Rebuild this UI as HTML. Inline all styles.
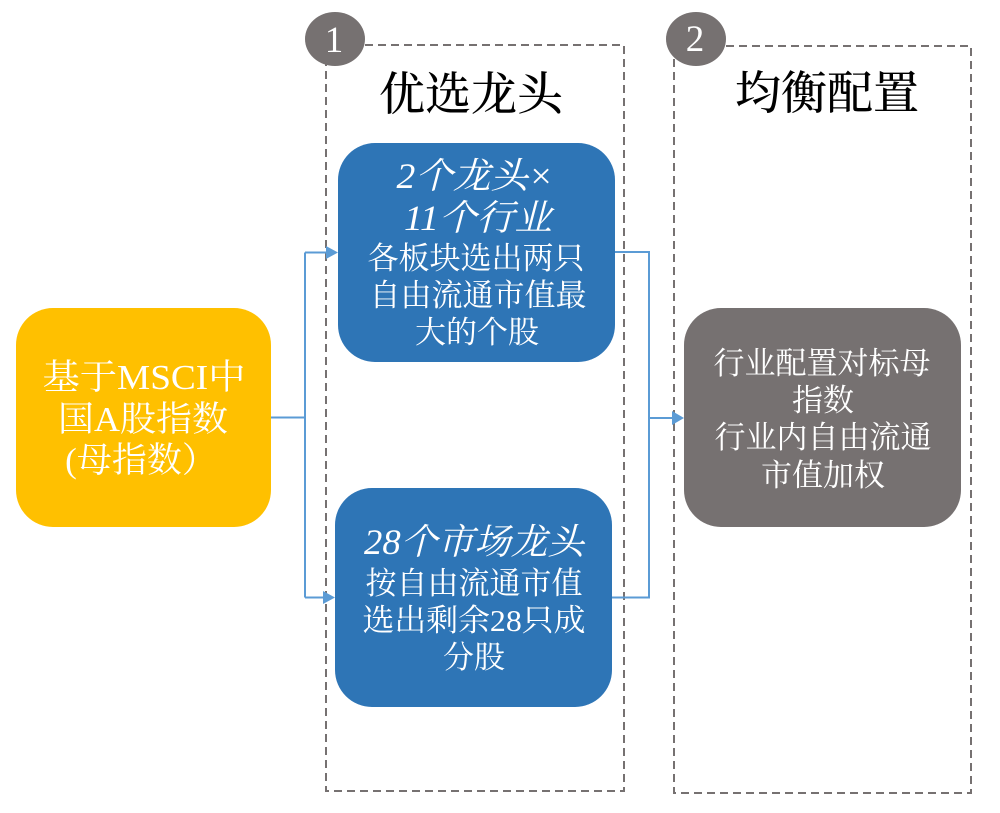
<!DOCTYPE html>
<html><head><meta charset="utf-8">
<style>
html,body{margin:0;padding:0;background:#fff}
svg{display:block}
text{font-family:"Liberation Serif","Noto Serif CJK SC",serif;text-anchor:middle;fill:#fff}
.t{font-size:31px}
.l{font-size:35px}
.i{font-size:36px;font-style:italic}
.h{font-size:46px;fill:#000;font-weight:500}
</style></head><body>
<svg width="1000" height="813" viewBox="0 0 1000 813" xmlns="http://www.w3.org/2000/svg">
<rect x="326" y="45" width="298" height="746" fill="none" stroke="#767171" stroke-width="2" stroke-dasharray="8 5"/>
<rect x="674" y="46" width="297" height="747" fill="none" stroke="#767171" stroke-width="2" stroke-dasharray="8 5"/>
<g fill="none" stroke="#5B9BD5" stroke-width="2">
<path d="M271 417.500H305M305 252.500V597.500M305 252.500H330M305 597.500H327"/>
<path d="M614 252H649V418M612 597.500H649V418M648 418H674"/>
</g>
<g fill="#5B9BD5">
<path d="M326 246L338 252.500L326 259Z"/>
<path d="M323 591L335 597.500L323 604Z"/>
<path d="M672 411L684 418L672 425Z"/>
</g>
<rect x="16" y="308" width="255" height="219" rx="37" fill="#FFC000"/>
<rect x="338" y="143" width="277" height="219" rx="37" fill="#2E75B6"/>
<rect x="335" y="488" width="277" height="219" rx="37" fill="#2E75B6"/>
<rect x="684" y="308" width="277" height="219" rx="37" fill="#767171"/>
<ellipse cx="335" cy="39" rx="30" ry="27" fill="#767171"/>
<ellipse cx="696" cy="39" rx="30" ry="27" fill="#767171"/>
<text x="334" y="52" font-size="37">1</text>
<text x="695" y="51" font-size="37">2</text>
<text class="h" x="471" y="110">优选龙头</text>
<text class="h" x="827" y="109">均衡配置</text>
<text class="l" x="144" y="389" textLength="203" lengthAdjust="spacingAndGlyphs">基于MSCI中</text>
<text class="l" x="143" y="431" textLength="170" lengthAdjust="spacingAndGlyphs">国A股指数</text>
<text class="l" x="141" y="472">(母指数）</text>
<text class="i" x="475" y="188" textLength="157" lengthAdjust="spacingAndGlyphs">2个龙头×</text>
<text class="i" x="478" y="230" textLength="148" lengthAdjust="spacingAndGlyphs">11个行业</text>
<text class="t" x="476" y="269">各板块选出两只</text>
<text class="t" x="478" y="306">自由流通市值最</text>
<text class="t" x="477" y="343">大的个股</text>
<text class="i" x="474" y="554" textLength="220" lengthAdjust="spacingAndGlyphs">28个市场龙头</text>
<text class="t" x="474" y="594">按自由流通市值</text>
<text class="t" x="474" y="631" textLength="223" lengthAdjust="spacingAndGlyphs">选出剩余28只成</text>
<text class="t" x="474" y="668">分股</text>
<text class="t" x="822" y="374">行业配置对标母</text>
<text class="t" x="823" y="411">指数</text>
<text class="t" x="823" y="448">行业内自由流通</text>
<text class="t" x="823" y="486">市值加权</text>
</svg>
</body></html>
